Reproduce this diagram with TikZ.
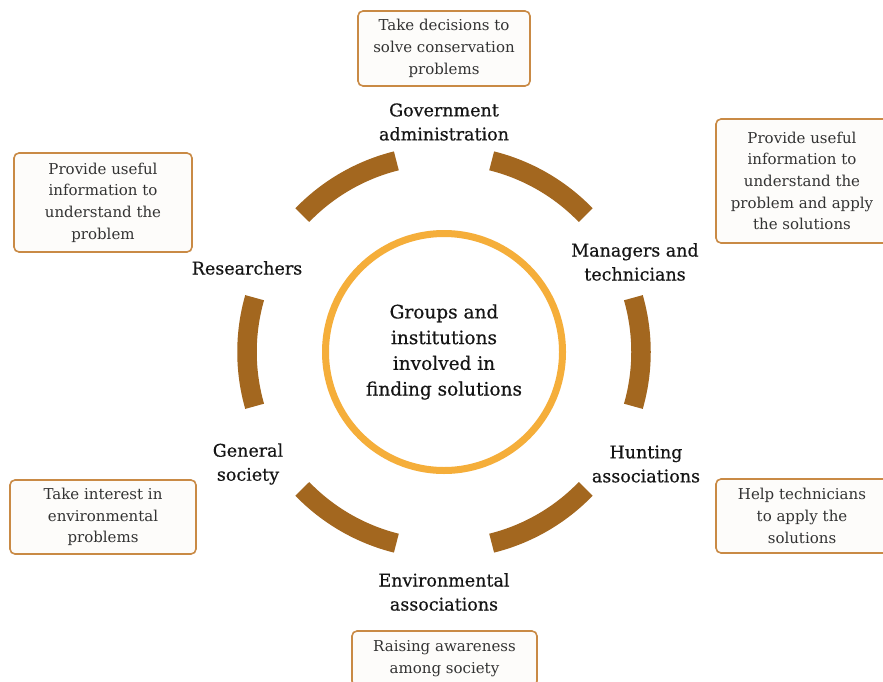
\documentclass[tikz,border=0pt]{standalone}
\usepackage{fontspec}
\setmainfont{DejaVu Serif}
\newfontfamily\rolefont[FakeBold=0.5]{DejaVu Serif}
\definecolor{ringbrown}{HTML}{A3671F}
\definecolor{coreorange}{HTML}{F5AE3A}
\definecolor{boxedge}{HTML}{C98A45}
\definecolor{boxfill}{HTML}{FDFCFA}
\definecolor{roletext}{HTML}{151515}
\definecolor{tasktext}{HTML}{333333}
\tikzset{
  role/.style={font=\rolefont\fontsize{17.5}{24}\selectfont, text=roletext, align=center, inner sep=0pt},
  task/.style={draw=boxedge, line width=1.6pt, rounded corners=5pt, fill=boxfill,
    font=\fontsize{15}{21.7}\selectfont, text=tasktext, align=center, inner sep=0pt},
  ringarc/.style={draw=ringbrown, line width=19.5pt},
  core/.style={circle, draw=coreorange, line width=7pt, minimum size=237pt, inner sep=0pt,
    font=\rolefont\fontsize{18.5}{25.7}\selectfont, text=roletext, align=center}
}
\begin{document}
\begin{tikzpicture}[x=1pt,y=-1pt]
\useasboundingbox (0,0) rectangle (883,682);
\fill[white] (0,0) rectangle (883,682);

% central circle
\node[core] (c) at (444,352) {Groups and\\institutions\\involved in\\finding solutions};

% broken outer ring
\foreach \a in {0,60,...,300}
  \draw[ringarc] (c.center) ++(\a-16:197) arc[start angle=\a-16, end angle=\a+16, radius=197];

% actors around the ring
\node[role] (gov) at (444,122) {Government\\administration};
\node[role] (man) at (635,262) {Managers and\\technicians};
\node[role] (hunt) at (646,464) {Hunting\\associations};
\node[role] (env) at (444,592) {Environmental\\associations};
\node[role] (soc) at (248,464) {General\\society};
\node[role] (res) at (247,268) {Researchers};

% roles of each actor
\node[task, minimum width=172pt, minimum height=75pt] (tgov) at (444,48.5)
  {Take decisions to\\solve conservation\\problems};
\node[task, minimum width=172pt, minimum height=124pt] (tman) at (802,181)
  {Provide useful\\information to\\understand the\\problem and apply\\the solutions};
\node[task, minimum width=172pt, minimum height=74pt] (thunt) at (802,516)
  {Help technicians\\to apply the\\solutions};
\node[task, minimum width=185pt, minimum height=55pt] (tenv) at (444.5,658.5)
  {Raising awareness\\among society};
\node[task, minimum width=186pt, minimum height=74pt] (tsoc) at (103,517)
  {Take interest in\\environmental\\problems};
\node[task, minimum width=178pt, minimum height=99pt] (tres) at (103,202.5)
  {Provide useful\\information to\\understand the\\problem};
\end{tikzpicture}
\end{document}
